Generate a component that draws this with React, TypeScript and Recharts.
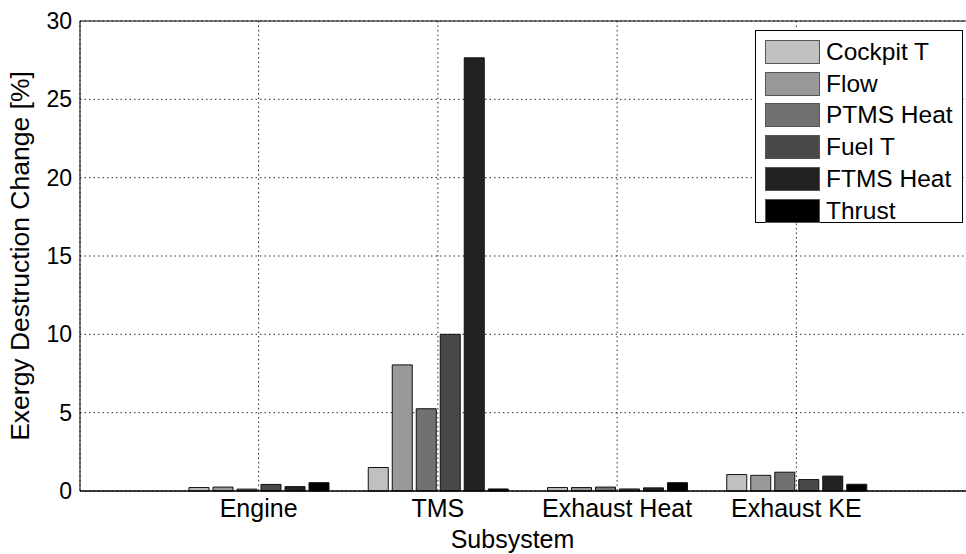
import React from "react";
import {
  BarChart,
  Bar,
  XAxis,
  YAxis,
  CartesianGrid,
  ReferenceLine,
} from "recharts";

const subsystems = ["Engine", "TMS", "Exhaust Heat", "Exhaust KE"];
const cockpitT = [0.22, 1.5, 0.22, 1.05];
const flow = [0.25, 8.05, 0.22, 1.0];
const ptmsHeat = [0.12, 5.25, 0.25, 1.2];
const fuelT = [0.42, 10.0, 0.13, 0.73];
const ftmsHeat = [0.28, 27.65, 0.2, 0.95];
const thrust = [0.53, 0.13, 0.53, 0.43];
const yTicks = [0, 5, 10, 15, 20, 25, 30];

const series = [
  { key: "cockpitT", name: "Cockpit T", color: "#c0c0c0" },
  { key: "flow", name: "Flow", color: "#999999" },
  { key: "ptmsHeat", name: "PTMS Heat", color: "#717171" },
  { key: "fuelT", name: "Fuel T", color: "#484848" },
  { key: "ftmsHeat", name: "FTMS Heat", color: "#222222" },
  { key: "thrust", name: "Thrust", color: "#000000" },
];

const data = subsystems.map((name, i) => ({
  name,
  cockpitT: cockpitT[i],
  flow: flow[i],
  ptmsHeat: ptmsHeat[i],
  fuelT: fuelT[i],
  ftmsHeat: ftmsHeat[i],
  thrust: thrust[i],
}));

const FONT = "'Liberation Sans', Arial, sans-serif";
const yTickStyle = { fontSize: 23, fill: "#000", fontFamily: FONT };
const xTickStyle = { fontSize: 25, fill: "#000", fontFamily: FONT };

// legend drawn as an overlay so it doesn't shrink the plot area
function BoxLegend() {
  return (
    <div
      style={{
        position: "absolute",
        left: 755,
        top: 30,
        border: "1px solid #000",
        background: "#fff",
        width: 208,
        height: 193,
        boxSizing: "border-box",
        padding: "5px 0 0 9px",
        fontFamily: FONT,
        fontSize: 24.5,
        color: "#000",
      }}
    >
      {series.map((s) => (
        <div key={s.key} style={{ display: "flex", alignItems: "center", height: 31.8 }}>
          <div
            style={{
              width: 53,
              height: 22,
              background: s.color,
              border: "1px solid #555",
              marginRight: 6,
              flexShrink: 0,
            }}
          />
          <span style={{ whiteSpace: "nowrap" }}>{s.name}</span>
        </div>
      ))}
    </div>
  );
}

export default function App() {
  return (
    <div
      style={{
        position: "fixed",
        left: 0,
        top: 0,
        width: 966,
        height: 554,
        overflow: "hidden",
        background: "#fff",
      }}
    >
      <BarChart
        width={990}
        height={554}
        data={data}
        margin={{ top: 21, right: 15, bottom: 0, left: 0 }}
        barSize={20}
        barGap={4}
        barCategoryGap={10}
      >
        <CartesianGrid stroke="#2a2a2a" strokeDasharray="1.5 3" />
        <XAxis
          dataKey="name"
          height={63}
          padding={{ left: 89, right: 89 }}
          axisLine={{ stroke: "#000", strokeWidth: 1.5 }}
          tickLine={false}
          tick={xTickStyle}
          label={{
            value: "Subsystem",
            position: "insideBottom",
            offset: 6,
            dx: -15,
            style: { fontSize: 25, fill: "#000", fontFamily: FONT },
          }}
        />
        <YAxis
          width={80}
          domain={[0, 30]}
          ticks={yTicks}
          axisLine={{ stroke: "#000", strokeWidth: 1 }}
          tickLine={false}
          tick={yTickStyle}
          label={{
            value: "Exergy Destruction Change [%]",
            angle: -90,
            position: "insideLeft",
            offset: 20,
            style: { fontSize: 26.5, fill: "#000", fontFamily: FONT, textAnchor: "middle" },
          }}
        />
        <ReferenceLine y={30} stroke="#000" />
        {series.map((s) => (
          <Bar
            key={s.key}
            dataKey={s.key}
            name={s.name}
            fill={s.color}
            stroke="#111"
            strokeWidth={1}
            isAnimationActive={false}
          />
        ))}
      </BarChart>
      <BoxLegend />
    </div>
  );
}
